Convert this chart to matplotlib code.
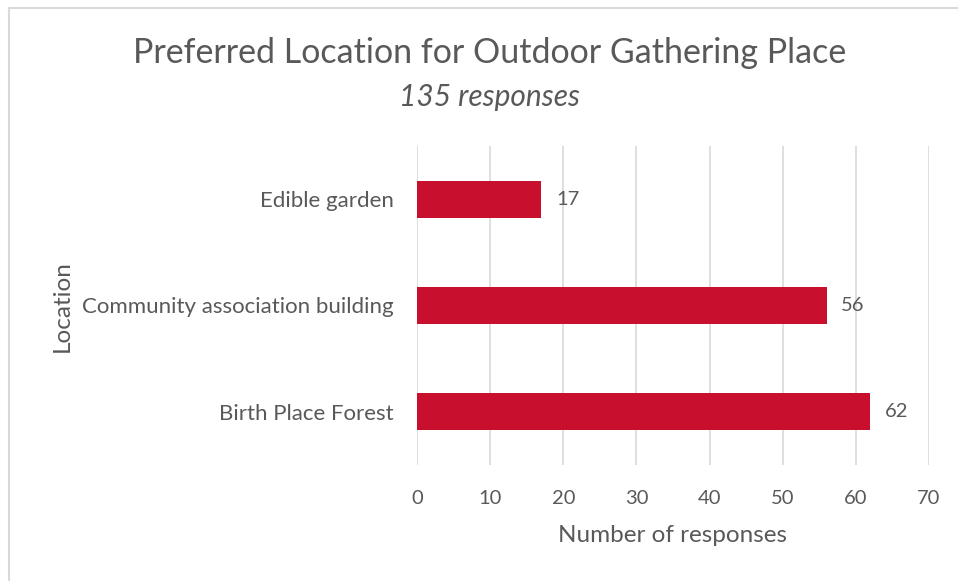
import matplotlib
matplotlib.use("Agg")
import matplotlib.pyplot as plt
from matplotlib.lines import Line2D

# data
locations = ["Birth Place Forest", "Community association building", "Edible garden"]
responses = [62, 56, 17]
xticks = [0, 10, 20, 30, 40, 50, 60, 70]

plt.rcParams['font.family'] = ['Lato', 'DejaVu Sans']
GREY = "#595959"
RED = "#C8102E"

fig = plt.figure(figsize=(9.58, 5.81), dpi=100)
ax = fig.add_axes([0.4353, 0.1997, 0.5344, 0.549])

ypos = range(len(locations))
ax.barh(ypos, responses, height=0.35, color=RED, zorder=3)
for y, v in zip(ypos, responses):
    ax.text(v + 2.0, y, str(v), va="center", ha="left", fontsize=14.5, color=GREY)

ax.set_xlim(0, 70)
ax.set_ylim(-0.5, 2.5)
ax.set_xticks(xticks)
ax.set_yticks(list(ypos))
ax.set_yticklabels(locations, fontsize=16)
ax.tick_params(axis="both", length=0, colors=GREY)
ax.tick_params(axis="x", pad=18, labelsize=14.5)
ax.tick_params(axis="y", pad=17)
ax.grid(axis="x", color="#D9D9D9", linewidth=1.2, zorder=0)
for s in ax.spines.values():
    s.set_visible(False)

ax.set_xlabel("Number of responses", fontsize=17.5, color=GREY, labelpad=13)
fig.text(0.065, 0.473, "Location", rotation=90, fontsize=17.5, color=GREY,
         ha="center", va="center")

fig.text(0.511, 0.908, "Preferred Location for Outdoor Gathering Place",
         fontsize=24.5, color=GREY, ha="center", va="center")
fig.text(0.511, 0.833, "135 responses", fontsize=21.5, color=GREY,
         style="italic", ha="center", va="center")

# light frame on top and left edges
fig.add_artist(Line2D([0.009, 1.0], [0.986, 0.986], color="#D9D9D9", lw=1.5))
fig.add_artist(Line2D([0.009, 0.009], [0.0, 0.986], color="#D9D9D9", lw=1.5))

fig.savefig("out.png", dpi=100, facecolor="white")
